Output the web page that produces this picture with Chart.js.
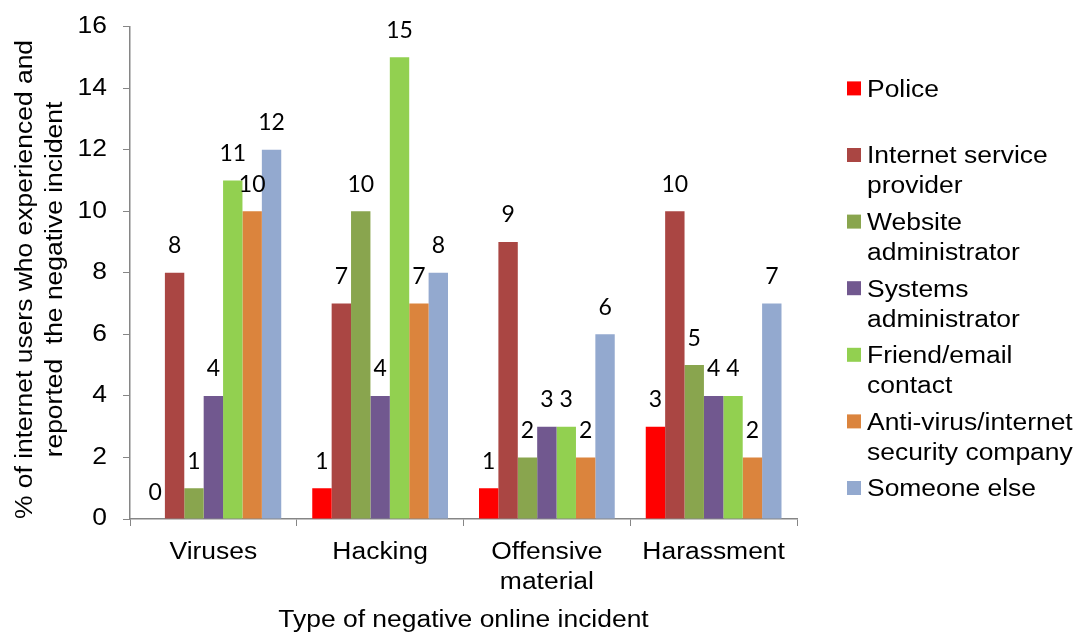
<!DOCTYPE html>
<html>
<head>
<meta charset="utf-8">
<style>
  html, body { margin: 0; padding: 0; background: #fff; }
  #wrap { width: 1076px; height: 632px; position: relative; }
</style>
<script src="https://cdn.jsdelivr.net/npm/chart.js@4/dist/chart.umd.min.js"></script>
</head>
<body>
<div id="wrap"><canvas id="c" width="1076" height="632"></canvas></div>
<script>
// Incident types on the x axis
const categories = ['Viruses', 'Hacking', ['Offensive', 'material'], 'Harassment'];

// Who the incident was reported to (% of internet users)
const police          = [0, 1, 1, 3];
const ispProvider     = [8, 7, 9, 10];
const websiteAdmin    = [1, 10, 2, 5];
const systemsAdmin    = [4, 4, 3, 4];
const friendContact   = [11, 15, 3, 4];
const antiVirusCo     = [10, 7, 2, 2];
const someoneElse     = [12, 8, 6, 7];

const seriesNames = [
  ['Police', ''],
  ['Internet service', 'provider'],
  ['Website', 'administrator'],
  ['Systems', 'administrator'],
  ['Friend/email', 'contact'],
  ['Anti-virus/internet', 'security company'],
  ['Someone else']
];
const seriesValues = [police, ispProvider, websiteAdmin, systemsAdmin, friendContact, antiVirusCo, someoneElse];
const seriesColors = ['#FF0000', '#AA4643', '#89A54E', '#71588F', '#92D050', '#DB843D', '#93A9CF'];

const yTicks = [0, 2, 4, 6, 8, 10, 12, 14, 16];
const yTitleLines = ['% of internet users who experienced and', 'reported  the negative incident'];
const xTitle = 'Type of negative online incident';

const AXIS_FONT = '"Liberation Sans", Arial, sans-serif';
const LABEL_FONT = 'Lato, "Open Sans", sans-serif';
const AXIS_GREY = '#868686';
const TEXT_STRETCH = 1.125;   // wide-set sans text for axes and legend

const canvas = document.getElementById('c');
const ctx2d = canvas.getContext('2d');

// Draw the sans-serif axis/legend text slightly widened along its baseline
const nativeFillText = CanvasRenderingContext2D.prototype.fillText;
ctx2d.fillText = function (text, x, y, maxWidth) {
  if (this.font.indexOf('Liberation') >= 0) {
    this.save();
    this.translate(x, y);
    this.scale(TEXT_STRETCH, 1);
    nativeFillText.call(this, text, 0, 0);
    this.restore();
  } else if (maxWidth !== undefined) {
    nativeFillText.call(this, text, x, y, maxWidth);
  } else {
    nativeFillText.call(this, text, x, y);
  }
};

// Two-line rotated title for the value axis
const yTitle = {
  id: 'yTitle',
  afterDraw(chart) {
    const ctx = chart.ctx;
    const baselines = [32.3, 62.3];
    const yMid = 279.5;
    ctx.save();
    ctx.font = '23.5px ' + AXIS_FONT;
    ctx.fillStyle = '#000';
    ctx.textAlign = 'center';
    ctx.textBaseline = 'alphabetic';
    yTitleLines.forEach((line, i) => {
      ctx.save();
      ctx.translate(baselines[i], yMid);
      ctx.rotate(-Math.PI / 2);
      ctx.fillText(line, 0, 0);
      ctx.restore();
    });
    ctx.restore();
  }
};

// Value labels above each bar
const valueLabels = {
  id: 'valueLabels',
  afterDatasetsDraw(chart) {
    const ctx = chart.ctx;
    ctx.save();
    ctx.font = '23px ' + LABEL_FONT;
    ctx.fillStyle = '#000';
    ctx.textAlign = 'center';
    ctx.textBaseline = 'alphabetic';
    chart.data.datasets.forEach((ds, i) => {
      const meta = chart.getDatasetMeta(i);
      meta.data.forEach((bar, j) => {
        ctx.fillText(String(ds.data[j]), bar.x, bar.y - 19.5);
      });
    });
    ctx.restore();
  }
};

// Legend on the right, one slot per series, wrapped labels
const sideLegend = {
  id: 'sideLegend',
  afterDraw(chart) {
    const ctx = chart.ctx;
    const x0 = 847, textX = 867, firstBaseline = 96.7, slot = 66.6, lineH = 30, box = 14;
    ctx.save();
    ctx.font = '23.5px ' + AXIS_FONT;
    ctx.textBaseline = 'alphabetic';
    ctx.textAlign = 'left';
    chart.data.datasets.forEach((ds, i) => {
      const base = firstBaseline + i * slot;
      ctx.fillStyle = ds.backgroundColor;
      ctx.fillRect(x0, base - 8.3 - box / 2, box, box);
      ctx.fillStyle = '#000';
      ds.legendLines.forEach((line, k) => {
        if (line) ctx.fillText(line, textX, base + k * lineH);
      });
    });
    ctx.restore();
  }
};

const datasets = seriesValues.map((vals, i) => ({
  label: seriesNames[i].join(' ').trim(),
  legendLines: seriesNames[i],
  data: vals,
  backgroundColor: seriesColors[i],
  borderWidth: 0,
  barPercentage: 1.0,
  categoryPercentage: 0.814
}));

new Chart(canvas, {
  type: 'bar',
  data: { labels: categories, datasets },
  options: {
    responsive: false,
    animation: false,
    events: [],
    layout: { padding: { left: 0, right: 279, top: 26.5, bottom: 0 } },
    plugins: { legend: { display: false }, tooltip: { enabled: false } },
    scales: {
      x: {
        offset: true,
        grid: { display: true, drawOnChartArea: false, drawTicks: true, tickLength: 7, color: AXIS_GREY, offset: true },
        border: { display: true, color: AXIS_GREY, width: 1.5 },
        ticks: { color: '#000', font: { family: AXIS_FONT, size: 23.5, lineHeight: 1.28 }, padding: 11, maxRotation: 0, autoSkip: false },
        title: {
          display: true,
          text: xTitle,
          color: '#000',
          font: { family: AXIS_FONT, size: 23.5, lineHeight: 1 },
          padding: { top: 0, bottom: 0 }
        },
        afterFit(scale) { scale.height = 113; }
      },
      y: {
        min: 0,
        max: 16,
        afterBuildTicks(scale) { scale.ticks = yTicks.map(v => ({ value: v })); },
        grid: { display: true, drawOnChartArea: false, drawTicks: true, tickLength: 7, color: AXIS_GREY },
        border: { display: true, color: AXIS_GREY, width: 1.5 },
        ticks: { color: '#000', font: { family: AXIS_FONT, size: 23.5 }, padding: 16 },
        title: { display: false },
        afterFit(scale) {
          scale.width = 130;
          scale.paddingTop = 0;
          scale.paddingBottom = 0;
        }
      }
    }
  },
  plugins: [valueLabels, yTitle, sideLegend]
});
</script>
</body>
</html>
